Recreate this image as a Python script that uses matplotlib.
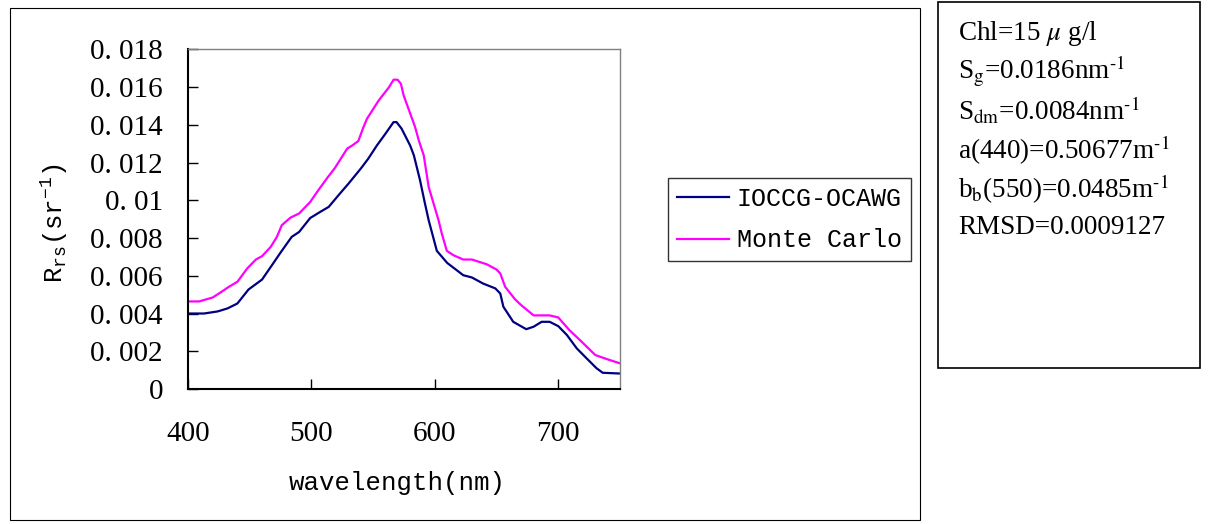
import matplotlib
matplotlib.use("Agg")
import matplotlib.pyplot as plt
from matplotlib.patches import Rectangle
from matplotlib.ticker import FuncFormatter, MultipleLocator

# remote sensing reflectance spectra, read at irregular wavelengths
wl_ioccg = [400, 413, 424, 432, 440, 449, 460, 468, 475, 484, 490, 499, 507, 514,
            523, 530, 540, 546, 553, 560, 566.5, 569, 573, 580, 583, 588, 592, 595,
            601.6, 610, 623, 630, 639, 649, 653, 655.5, 663.5, 674, 680, 686.5, 693,
            700, 707, 715, 723, 731, 736, 750]
rrs_ioccg = [0.0040, 0.0040, 0.00411, 0.00427, 0.00453, 0.00527, 0.0058, 0.00656,
             0.00723, 0.00806, 0.00832, 0.00906, 0.00938, 0.00965, 0.01035, 0.01088,
             0.01168, 0.0122, 0.0129, 0.01353, 0.01414, 0.01414, 0.0138, 0.0129,
             0.01238, 0.01106, 0.00982, 0.00894, 0.00732, 0.00668, 0.00603, 0.00591,
             0.00559, 0.00533, 0.00506, 0.00436, 0.00356, 0.00317, 0.0033, 0.00356,
             0.00356, 0.00333, 0.00286, 0.00215, 0.00162, 0.0011, 0.00086, 0.00082]

wl_mc = [400, 409, 420, 426, 433, 440, 448, 455, 460, 467, 472, 476, 483, 490, 499,
         505, 513, 519, 529, 533, 538, 542, 545, 554.5, 562.5, 566.6, 569.8, 572.5,
         574.7, 584, 587, 591, 595, 603, 605.6, 609.7, 615, 623, 630, 642, 650, 653,
         657, 665, 670, 680, 693, 700, 709, 719, 730, 740, 750]
rrs_mc = [0.00464, 0.00464, 0.00485, 0.0051, 0.00541, 0.00568, 0.00639, 0.00686,
          0.00704, 0.00753, 0.00806, 0.00868, 0.00908, 0.0093, 0.00991, 0.01048,
          0.0112, 0.01171, 0.01274, 0.0129, 0.01314, 0.01385, 0.01432, 0.01529,
          0.01596, 0.01639, 0.01639, 0.01617, 0.01556, 0.01388, 0.01317, 0.01238,
          0.0107, 0.00894, 0.00824, 0.00732, 0.00709, 0.00686, 0.00686, 0.00661,
          0.00633, 0.00612, 0.00541, 0.00475, 0.00444, 0.0039, 0.0039, 0.00379,
          0.00312, 0.0025, 0.0018, 0.00157, 0.00136]

params = [r"Chl=15 $\mu$ g/l",
          r"S$_{\rm g}$=0.0186nm$^{\text{-}1}$",
          r"S$_{\rm dm}$=0.0084nm$^{\text{-}1}$",
          r"a(440)=0.50677m$^{\text{-}1}$",
          r"b$_{\rm b}$(550)=0.0485m$^{\text{-}1}$",
          "RMSD=0.0009127"]

plt.rcParams['font.family'] = ['Liberation Mono', 'DejaVu Sans']
plt.rcParams['mathtext.fontset'] = 'stix'

W, H = 1209, 524
fig = plt.figure(figsize=(W / 100, H / 100), dpi=100)

def fx(px):
    return px / W

def fy(py):
    return 1 - py / H

# outer frames
fig.patches.append(Rectangle((fx(10), fy(520)), fx(920) - fx(10), fy(8) - fy(520),
                             transform=fig.transFigure, fill=False, ec='black', lw=0.8))
fig.patches.append(Rectangle((fx(938), fy(368)), fx(1200) - fx(938), fy(2) - fy(368),
                             transform=fig.transFigure, fill=False, ec='black', lw=1.2))

ax = fig.add_axes([fx(188), fy(389), fx(620) - fx(188), fy(49.3) - fy(389)])
ax.plot(wl_ioccg, rrs_ioccg, color='#000080', lw=1.6, label='IOCCG-OCAWG')
ax.plot(wl_mc, rrs_mc, color='#FF00FF', lw=1.6, label='Monte Carlo')

ax.set_xlim(400, 750)
ax.set_ylim(0, 0.018)
ax.xaxis.set_major_locator(MultipleLocator(100))
ax.yaxis.set_major_locator(MultipleLocator(0.002))
ax.yaxis.set_major_formatter(FuncFormatter(lambda v, p: ('%g' % round(v, 4)).replace('.', '. ')))
ax.tick_params(axis='x', direction='in', length=7, width=1, pad=23, labelsize=21)
ax.tick_params(axis='y', direction='in', length=7, width=1, pad=18, labelsize=21)
for lab in ax.get_xticklabels() + ax.get_yticklabels():
    lab.set_family('Liberation Serif')

for s in ['left', 'bottom']:
    ax.spines[s].set_linewidth(1.5)
for s in ['top', 'right']:
    ax.spines[s].set_color('#808080')
    ax.spines[s].set_linewidth(1.0)

fig.text(fx(397), fy(483), 'wavelength(nm)', ha='center', va='center', fontsize=18.5)
fig.text(fx(55), fy(223), r'$\mathregular{R_{rs}(sr^{-1})}$', rotation=90,
         ha='center', va='center', fontsize=18.5)

leg = ax.legend(loc='upper left', bbox_to_anchor=(fx(668), fy(178)),
                bbox_transform=fig.transFigure, borderaxespad=0, fontsize=18,
                frameon=True, fancybox=False, handlelength=2.1, handletextpad=0.3,
                labelspacing=0.7, borderpad=0.35)
leg.get_frame().set_edgecolor('black')
leg.get_frame().set_linewidth(1.0)

for i, t in enumerate(params):
    fig.text(fx(958), fy(33 + 39 * i), t, ha='left', va='center', fontsize=19.5,
             family='Liberation Serif')

fig.savefig('out.png', dpi=100)
